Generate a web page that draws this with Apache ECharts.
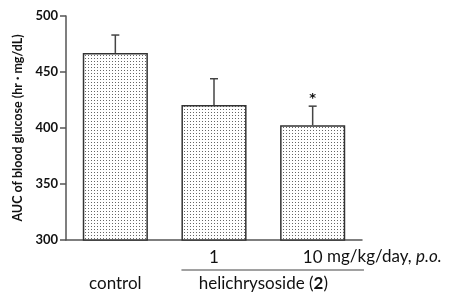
<!DOCTYPE html>
<html>
<head>
<meta charset="utf-8">
<script src="https://cdn.jsdelivr.net/npm/echarts@6/dist/echarts.min.js"></script>
<style>
  html, body { margin: 0; padding: 0; background: #fff; }
  #main { width: 454px; height: 295px; }
</style>
</head>
<body>
<div id="main"></div>
<script>
// data
var categories = ['control', '1', '10'];
var means = [467, 420.5, 402.5];
var sems = [16, 23.5, 17];
var marks = ['', '', '*'];
var yTicks = [300, 350, 400, 450, 500];

var FONT = 'Lato, "Open Sans", sans-serif';

// dotted fill
var tile = document.createElement('canvas');
tile.width = 3; tile.height = 3;
var tctx = tile.getContext('2d');
tctx.fillStyle = '#fff';
tctx.fillRect(0, 0, 3, 3);
tctx.fillStyle = '#666';
tctx.fillRect(1, 1, 1, 1);

var chart = echarts.init(document.getElementById('main'));

var errData = categories.map(function (c, i) {
    return [i, means[i], means[i] + sems[i], marks[i]];
});

var option = {
    animation: false,
    grid: { left: 66, right: 92, top: 16, bottom: 55 },
    xAxis: {
        type: 'category',
        data: categories,
        boundaryGap: true,
        axisLine: { lineStyle: { color: '#555', width: 1.5 } },
        axisTick: { alignWithLabel: true, length: 6, lineStyle: { color: '#555', width: 1.5 } },
        axisLabel: {
            fontFamily: FONT, fontSize: 17, color: '#111', margin: 9,
            formatter: function (v) { return v === 'control' ? '' : v; }
        }
    },
    yAxis: {
        type: 'value',
        min: yTicks[0], max: yTicks[yTicks.length - 1], interval: 50,
        name: 'AUC of blood glucose (hr \u00b7 mg/dL)',
        nameLocation: 'middle', nameRotate: 90, nameGap: 40,
        nameTextStyle: { fontFamily: FONT, fontSize: 12.5, fontWeight: 'bold', color: '#111' },
        splitLine: { show: false },
        axisLine: { show: true, lineStyle: { color: '#555', width: 1.5 } },
        axisTick: { show: true, length: 6, lineStyle: { color: '#555', width: 1.5 } },
        axisLabel: { fontFamily: FONT, fontSize: 13, fontWeight: 'bold', color: '#111', margin: 8 }
    },
    series: [
        {
            type: 'bar',
            data: means,
            barWidth: '66%',
            itemStyle: {
                color: { image: tile, repeat: 'repeat' },
                borderColor: '#333', borderWidth: 1.5
            }
        },
        {
            type: 'custom',
            data: errData,
            z: 3,
            renderItem: function (params, api) {
                var x = api.value(0);
                var lo = api.coord([x, api.value(1)]);
                var hi = api.coord([x, api.value(2)]);
                var half = 4;
                var children = [
                    { type: 'line', shape: { x1: lo[0], y1: lo[1], x2: hi[0], y2: hi[1] },
                      style: { stroke: '#444', lineWidth: 1.5 } },
                    { type: 'line', shape: { x1: hi[0] - half, y1: hi[1], x2: hi[0] + half, y2: hi[1] },
                      style: { stroke: '#444', lineWidth: 1.5 } }
                ];
                var m = api.value(3);
                if (m) {
                    children.push({ type: 'text', x: hi[0], y: hi[1] - 1,
                        style: { text: m, fontFamily: '"DejaVu Sans", sans-serif', fontSize: 13, fontWeight: 'bold',
                                 fill: '#111', align: 'center', verticalAlign: 'bottom' } });
                }
                return { type: 'group', children: children };
            }
        }
    ]
};
chart.setOption(option);

// annotations placed from the axis scale
var p0 = chart.convertToPixel({ gridIndex: 0 }, [0, 300]);
var p1 = chart.convertToPixel({ gridIndex: 0 }, [1, 300]);
var p2 = chart.convertToPixel({ gridIndex: 0 }, [2, 300]);
var band = p1[0] - p0[0];
var lineY = p0[1] + 30;
chart.setOption({
    graphic: [
        { type: 'text', x: p2[0] + 10, y: p0[1] + 17,
          style: { text: '{n| mg/kg/day, }{i|p.o.}', fontFamily: FONT, fontSize: 17, fill: '#111',
                   verticalAlign: 'middle',
                   rich: { n: { fontFamily: FONT, fontSize: 17, fill: '#111' },
                           i: { fontFamily: FONT, fontSize: 17, fontStyle: 'italic', fill: '#111' } } } },
        { type: 'line', shape: { x1: p1[0] - band * 0.33, y1: lineY, x2: p2[0] + band * 0.52, y2: lineY },
          style: { stroke: '#444', lineWidth: 1.2 } },
        { type: 'text', x: p0[0], y: p0[1] + 44,
          style: { text: 'control', fontFamily: FONT, fontSize: 17, fill: '#111', align: 'center', verticalAlign: 'middle' } },
        { type: 'text', x: (p1[0] + p2[0]) / 2, y: p0[1] + 44,
          style: { text: 'helichrysoside ({b|2})', fontFamily: FONT, fontSize: 17, fill: '#111',
                   align: 'center', verticalAlign: 'middle',
                   rich: { b: { fontFamily: FONT, fontSize: 17, fontWeight: 'bold', fill: '#111' } } } }
    ]
});
</script>
</body>
</html>
